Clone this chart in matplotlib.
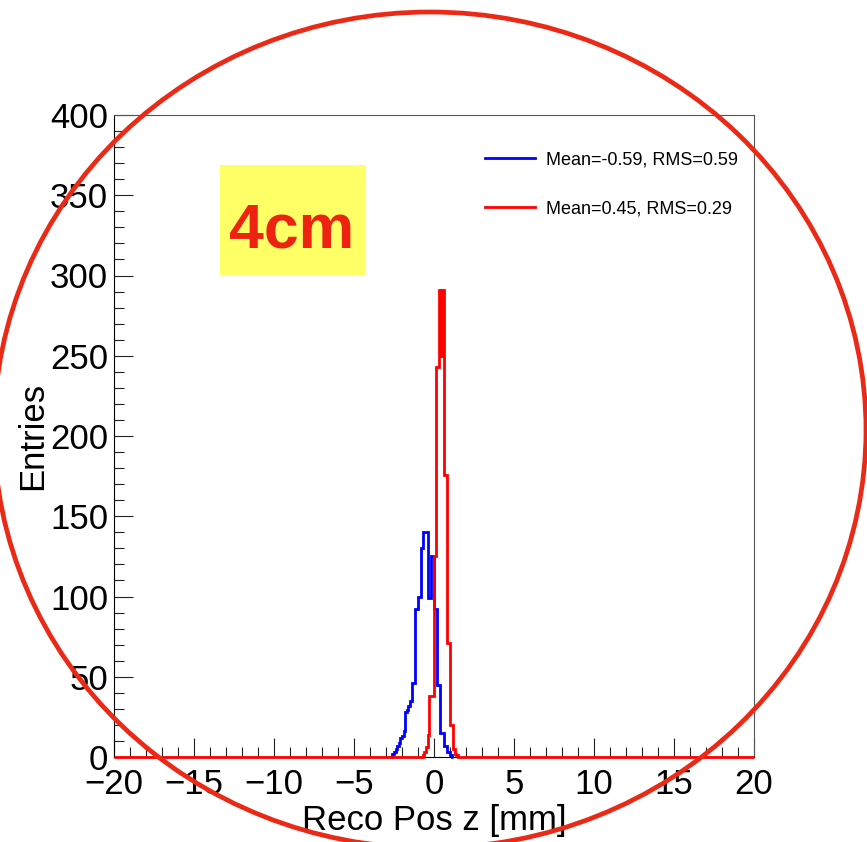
import numpy as np
import matplotlib
matplotlib.use("Agg")
import matplotlib.pyplot as plt
from matplotlib.patches import Ellipse, Rectangle
from matplotlib.lines import Line2D
from matplotlib.ticker import MultipleLocator

# ---------------- data ----------------
x_min, x_max = -20.0, 20.0
bin_width = 0.1

blue_start = -2.6
blue_counts = [2, 3, 5, 7, 9, 12, 13, 16, 28, 29, 32, 35, 46, 46, 92, 92, 100, 100,
               130, 140, 140, 140, 99, 99, 125, 125, 92, 92, 45, 45, 15, 15, 7, 7, 3, 3, 1]
red_start = -0.7
red_counts = [1, 3, 6, 14, 38, 38, 38, 125, 243, 243, 291, 250, 291, 176, 176,
              71, 71, 20, 20, 5, 2, 1]

blue_label = "Mean=-0.59, RMS=0.59"
red_label = "Mean=0.45, RMS=0.29"
x_ticks = [-20, -15, -10, -5, 0, 5, 10, 15, 20]
y_ticks = [0, 50, 100, 150, 200, 250, 300, 350, 400]
x_label = "Reco Pos z [mm]"
y_label = "Entries"
note_text = "4cm"

# ---------------- build histograms ----------------
edges = np.round(np.arange(x_min, x_max + bin_width / 2, bin_width), 6)
nbins = len(edges) - 1


def full_hist(start, counts):
    arr = np.zeros(nbins)
    i0 = int(round((start - x_min) / bin_width))
    arr[i0:i0 + len(counts)] = counts
    return arr, i0


blue, b0 = full_hist(blue_start, blue_counts)
red, r0 = full_hist(red_start, red_counts)

plt.rcParams['font.family'] = ['Liberation Sans', 'DejaVu Sans']

W, H = 867, 842
fig = plt.figure(figsize=(W / 100, H / 100), dpi=100)
ax = fig.add_axes([114 / W, 1 - 757 / H, 640 / W, 642 / H])

# blue: its empty bins lie under the red baseline, so draw only its occupied span
b_lo, b_hi = b0 - 1, b0 + len(blue_counts) + 1
ax.stairs(blue[b_lo:b_hi], edges[b_lo:b_hi + 1], color='#0000ff', lw=2.0,
          clip_on=False, zorder=3)
ax.stairs(red, edges, color='#ff0000', lw=2.0, clip_on=False, zorder=4)

ax.set_xlim(x_min, x_max)
ax.set_ylim(0, 400)
ax.set_xticks(x_ticks)
ax.set_yticks(y_ticks)
ax.xaxis.set_minor_locator(MultipleLocator(1))
ax.yaxis.set_minor_locator(MultipleLocator(10))
ax.tick_params(which='both', direction='in', top=False, right=False,
               width=0.8, color='#222222')
ax.tick_params(which='major', length=13.7, labelsize=25)
ax.tick_params(which='minor', length=7.2)
ax.tick_params(axis='x', which='major', pad=8)
ax.tick_params(axis='y', which='major', pad=4.3)

for s in ['left', 'bottom']:
    ax.spines[s].set_color('black')
    ax.spines[s].set_linewidth(0.8)
for s in ['top', 'right']:
    ax.spines[s].set_color('#555555')
    ax.spines[s].set_linewidth(0.8)

ax.set_xlabel(x_label, fontsize=25, labelpad=2)
ax.set_ylabel(y_label, fontsize=25, labelpad=0.5)

handles = [Line2D([], [], color='#0000ff', lw=2.0),
           Line2D([], [], color='#ff0000', lw=2.0)]
ax.legend(handles, [blue_label, red_label], loc='upper left',
          bbox_to_anchor=(485 / W, 1 - 151.5 / H), bbox_transform=fig.transFigure,
          frameon=False, fontsize=13, handlelength=2.78, handletextpad=0.6,
          labelspacing=1.75, borderpad=0, borderaxespad=0)

# ---------------- overlay annotations ----------------
ov = fig.add_axes([0, 0, 1, 1], zorder=10)
ov.set_xlim(0, W)
ov.set_ylim(H, 0)
ov.axis('off')
ov.patch.set_alpha(0)

ov.add_patch(Rectangle((220, 165), 146, 110, facecolor='#ffff66', edgecolor='none'))
ov.text(292, 247, note_text, ha='center', va='baseline', fontsize=45,
        fontweight='bold', color='#ee2211')
ov.add_patch(Ellipse((430, 430), 872, 836, facecolor='none', edgecolor='#ea2a17', lw=3.4))

fig.savefig('out.png', dpi=100)
